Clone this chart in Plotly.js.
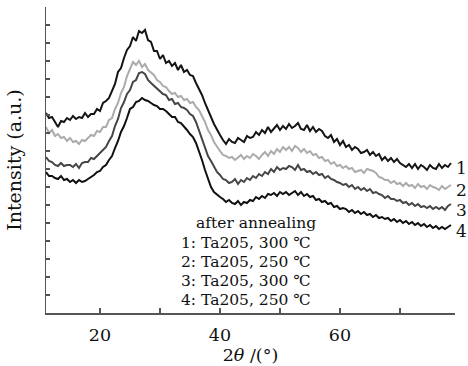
<!DOCTYPE html>
<html>
<head>
<meta charset="utf-8">
<script src="https://cdn.plot.ly/plotly-3.0.1.min.js"></script>
<style>html,body{margin:0;padding:0;background:#fff;}#chart{width:468px;height:366px;}</style>
</head>
<body>
<div id="chart"></div>
<script>
// 2θ (degrees)
var twoTheta = [
11,11.5,12,12.5,13,13.5,14,14.5,15,15.5,16,16.5,17,17.5,18,18.5,19,19.5,20,20.5,
21,21.5,22,22.5,23,23.5,24,24.5,25,25.5,26,26.5,27,27.5,28,28.5,29,29.5,30,30.5,
31,31.5,32,32.5,33,33.5,34,34.5,35,35.5,36,36.5,37,37.5,38,38.5,39,39.5,40,40.5,
41,41.5,42,42.5,43,43.5,44,44.5,45,45.5,46,46.5,47,47.5,48,48.5,49,49.5,50,50.5,
51,51.5,52,52.5,53,53.5,54,54.5,55,55.5,56,56.5,57,57.5,58,58.5,59,59.5,60,60.5,
61,61.5,62,62.5,63,63.5,64,64.5,65,65.5,66,66.5,67,67.5,68,68.5,69,69.5,70,70.5,
71,71.5,72,72.5,73,73.5,74,74.5,75,75.5,76,76.5,77,77.5,78,78.5
];
// Intensity (a.u.) of each curve
var curve1 = [
200,195,196,191,186,192,191,195,193,197,194,196,195,200,196,199,199,204,202,210,
212,215,222,229,241,245,255,263,267,276,272,282,280,283,273,271,262,262,254,258,
250,252,247,250,243,248,241,243,238,237,230,224,218,210,202,196,189,183,178,173,
169,174,171,170,175,173,171,177,175,176,181,178,183,180,186,181,184,188,183,187,
184,189,185,187,190,184,183,188,182,186,181,184,182,177,175,178,171,174,168,172,
166,168,163,166,164,160,161,163,158,161,157,159,153,156,152,155,151,154,150,148,
146,149,145,149,144,148,146,143,148,145,144,149,145,148,146,150
];
var curve2 = [
186,180,183,177,179,175,176,172,175,171,172,169,173,172,175,178,177,182,181,186,
186,193,195,204,210,220,226,237,244,251,248,252,246,249,243,240,238,233,231,227,
226,222,219,220,216,217,213,214,210,211,206,203,197,191,183,178,171,166,162,158,
157,155,156,153,156,158,154,157,155,159,157,154,158,161,157,162,159,164,161,166,
163,166,162,167,165,161,164,160,162,158,159,155,156,152,153,149,151,147,148,145,
147,144,145,141,142,143,140,144,143,142,140,136,135,133,133,130,132,129,130,127,
130,127,128,125,129,126,127,124,128,126,125,123,127,124,126,128
];
var curve3 = [
156,152,151,148,147,150,147,148,148,146,149,145,150,151,151,155,154,157,160,163,
166,172,177,187,194,205,211,219,223,231,233,240,241,239,233,230,227,224,222,219,
218,213,214,209,210,206,205,203,199,197,191,183,173,165,157,152,147,141,138,134,
133,130,131,134,129,133,131,135,133,137,135,139,137,141,139,144,141,146,143,145,
144,147,146,143,148,143,144,141,142,139,141,138,139,135,137,134,133,131,130,128,
129,126,128,124,126,123,125,122,124,120,121,119,118,115,117,114,114,112,113,110,
111,108,110,107,109,106,107,105,107,104,106,104,106,103,107,109
];
var curve4 = [
141,137,137,135,134,137,133,134,131,133,130,133,131,132,134,136,138,141,142,146,
148,153,157,165,172,181,187,195,204,206,211,212,215,213,212,210,208,207,204,204,
202,199,196,196,191,190,187,183,179,176,170,162,153,143,134,126,121,118,116,114,
111,113,110,109,112,108,111,110,113,112,116,114,117,115,119,118,120,117,121,119,
121,118,120,122,118,121,117,119,116,117,113,114,111,112,109,110,106,107,104,105,
104,101,103,100,102,99,101,98,99,96,98,95,96,94,95,92,94,91,93,90,
92,89,91,88,90,87,89,86,88,85,87,84,86,84,86,88
];
var curveLabels = ["1", "2", "3", "4"];
var legendLines = ["after annealing", "1: Ta205, 300 ℃", "2: Ta205, 250 ℃", "3: Ta205, 300 ℃", "4: Ta205, 250 ℃"];
var xTickVals = [20, 30, 40, 50, 60, 70];
var xTickText = ["20", "", "40", "", "60", ""];

var series = [curve1, curve2, curve3, curve4];
var colors = ["#141414", "#ababab", "#454545", "#101010"];
var labelY = [145, 123, 103, 82];

var traces = series.map(function (s, i) {
  return {x: twoTheta, y: s, type: "scatter", mode: "lines",
    line: {color: colors[i], width: 2}, showlegend: false, hoverinfo: "skip"};
});

var serif = "DejaVu Serif, Liberation Serif, serif";
var annotations = curveLabels.map(function (t, i) {
  return {x: 1.017, y: labelY[i], xref: "paper", yref: "y", text: t, showarrow: false,
    font: {family: serif, size: 17, color: "#111"}, xanchor: "center", yanchor: "middle"};
});
var legX = [46, 44.3, 44.3, 44.3, 44.3];
var legY = [90, 70, 51, 32, 13];
legendLines.forEach(function (t, i) {
  annotations.push({x: legX[i], y: legY[i], xref: "x", yref: "y", text: t, showarrow: false,
    font: {family: serif, size: 15.5, color: "#111"}, xanchor: "center", yanchor: "middle"});
});

var layout = {
  width: 468, height: 366,
  margin: {l: 46, r: 13, t: 7, b: 53},
  paper_bgcolor: "#ffffff", plot_bgcolor: "#ffffff",
  showlegend: false,
  xaxis: {
    range: [11, 79.17], tickmode: "array", tickvals: xTickVals, ticktext: xTickText,
    ticks: "inside", ticklen: 5, tickwidth: 1.5, tickcolor: "#555",
    showline: true, linecolor: "#555", linewidth: 1.5, mirror: false,
    showgrid: false, zeroline: false, ticklabelstandoff: 5,
    tickfont: {family: serif, size: 17.5, color: "#111"},
    title: {text: "2<i>θ</i> /(°)", font: {family: serif, size: 17.5, color: "#111"}, standoff: 3}
  },
  yaxis: {
    range: [0, 306], tick0: 0, dtick: 18,
    ticks: "inside", ticklen: 4, tickwidth: 1.5, tickcolor: "#555",
    showticklabels: false,
    showline: true, linecolor: "#555", linewidth: 1.5, mirror: false,
    showgrid: false, zeroline: false,
    title: {text: "Intensity (a.u.)", font: {family: serif, size: 19, color: "#111"}, standoff: 18}
  },
  annotations: annotations
};

Plotly.newPlot("chart", traces, layout, {displayModeBar: false, staticPlot: true});
</script>
</body>
</html>
